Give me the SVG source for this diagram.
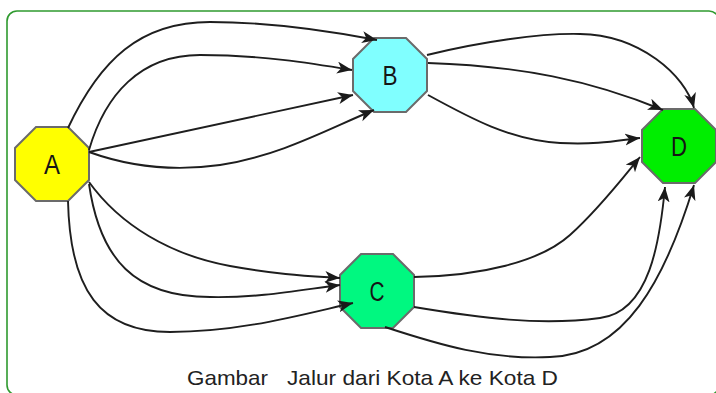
<svg xmlns="http://www.w3.org/2000/svg" width="716" height="393" viewBox="0 0 716 393">
<style>
.oct{stroke:#6b6b6b;stroke-width:2}
.lbl{font-family:"Liberation Sans",Arial,sans-serif;font-size:27px;fill:#151515;text-anchor:middle}
.edge{fill:none;stroke:#1e1e1e;stroke-width:1.9;marker-end:url(#arr)}
.cap{font-family:"Liberation Sans",Arial,sans-serif;font-size:21px;fill:#222}
</style>
<defs>
<marker id="arr" markerUnits="userSpaceOnUse" markerWidth="16" markerHeight="13" refX="15" refY="6" orient="auto">
<path d="M0,0 L15,6 L0,12 L4,6 z" fill="#1a1a1a"/>
</marker>
<polygon id="octa" points="-16,-37 16,-37 37,-16 37,16 16,37 -16,37 -37,16 -37,-16"/>
</defs>
<rect x="7" y="11" width="712" height="384" rx="10" fill="#fff" stroke="#2f9a2f" stroke-width="1.6"/>
<g id="node-A" transform="translate(52,164)">
<use href="#octa" class="oct" fill="#ffff00"/>
<text class="lbl" x="0" y="10" textLength="16" lengthAdjust="spacingAndGlyphs">A</text>
</g>
<g id="node-B" transform="translate(390,75)">
<use href="#octa" class="oct" fill="#80ffff"/>
<text class="lbl" x="0" y="10" textLength="15" lengthAdjust="spacingAndGlyphs">B</text>
</g>
<g id="node-C" transform="translate(377,291)">
<use href="#octa" class="oct" fill="#00f880"/>
<text class="lbl" x="0" y="10" textLength="15" lengthAdjust="spacingAndGlyphs">C</text>
</g>
<g id="node-D" transform="translate(679,146)">
<use href="#octa" class="oct" fill="#00ee00"/>
<text class="lbl" x="0" y="10" textLength="16" lengthAdjust="spacingAndGlyphs">D</text>
</g>
<g id="connectors">
<path class="edge" d="M68,128 C100,60 140,22 210,22 C270,22 330,31 377,40"/>
<path class="edge" d="M89,150 C105,95 140,55 200,55 C260,55 310,63 352,70"/>
<path class="edge" d="M89,152 L353,95"/>
<path class="edge" d="M89,152 C125,165 170,172 220,165 C280,156 330,128 374,110"/>
<path class="edge" d="M89,182 C120,225 170,255 230,266 C280,275 310,276 340,278"/>
<path class="edge" d="M89,184 C100,260 135,297 210,297 C260,298 300,290 340,285"/>
<path class="edge" d="M68,201 C70,290 100,332 170,332 C240,332 300,315 353,303"/>
<path class="edge" d="M427,55 C480,42 540,33 580,34 C640,35 685,75 694,108"/>
<path class="edge" d="M428,63 C520,66 590,80 663,110"/>
<path class="edge" d="M428,95 C470,118 510,140 560,143 C600,145 620,140 640,138"/>
<path class="edge" d="M414,277 C480,276 540,262 570,235 C600,208 625,175 640,157"/>
<path class="edge" d="M414,307 C480,318 540,326 600,318 C650,312 660,240 665,187"/>
<path class="edge" d="M385,327 C440,345 490,360 550,357 C625,355 665,280 694,185"/>
</g>
<text class="cap" x="187" y="385" textLength="81" lengthAdjust="spacingAndGlyphs">Gambar</text>
<text class="cap" x="287" y="385" textLength="271" lengthAdjust="spacingAndGlyphs">Jalur dari Kota A ke Kota D</text>
</svg>
